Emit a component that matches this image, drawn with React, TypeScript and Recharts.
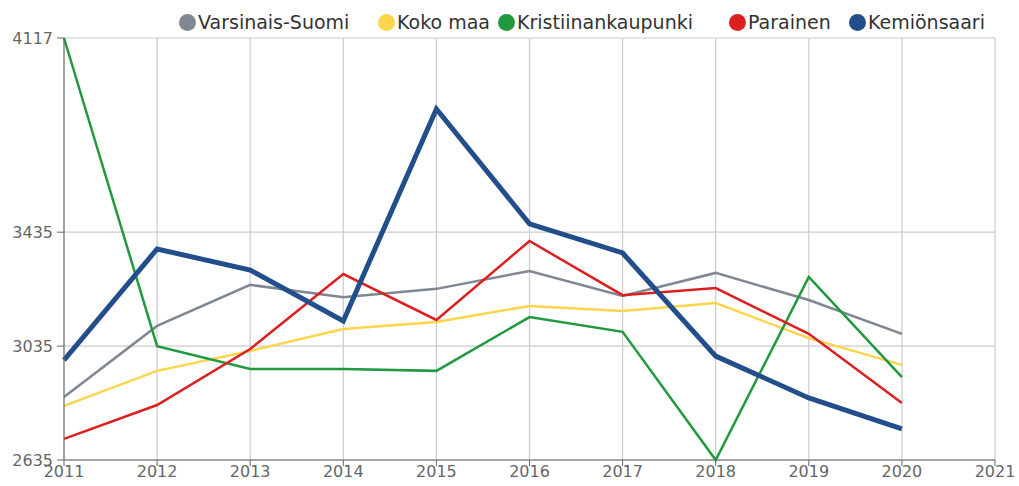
import React from 'react';
import { LineChart, Line, XAxis, YAxis, CartesianGrid } from 'recharts';

const years = [2011, 2012, 2013, 2014, 2015, 2016, 2017, 2018, 2019, 2020];
const varsinaisSuomi = [2856, 3106, 3250, 3207, 3236, 3299, 3211, 3292, 3197, 3078];
const kokoMaa = [2825, 2948, 3018, 3095, 3120, 3176, 3158, 3186, 3063, 2969];
const kristiinankaupunki = [4117, 3035, 2955, 2955, 2948, 3137, 3085, 2635, 3278, 2926];
const parainen = [2709, 2828, 3025, 3288, 3127, 3404, 3214, 3239, 3078, 2835];
const kemionsaari = [2986, 3376, 3302, 3123, 3868, 3464, 3362, 3000, 2853, 2744];

const xTicks = [2011, 2012, 2013, 2014, 2015, 2016, 2017, 2018, 2019, 2020, 2021];
const yTicks = [2635, 3035, 3435, 4117];

const series = [
  { key: 'vs', name: 'Varsinais-Suomi', color: '#7f8793', width: 2.5, values: varsinaisSuomi },
  { key: 'km', name: 'Koko maa', color: '#fcd54c', width: 2.5, values: kokoMaa },
  { key: 'kk', name: 'Kristiinankaupunki', color: '#22993f', width: 2.5, values: kristiinankaupunki },
  { key: 'pa', name: 'Parainen', color: '#dc2020', width: 2.5, values: parainen },
  { key: 'ke', name: 'Kemiönsaari', color: '#224f8b', width: 5, values: kemionsaari },
];

// legend item left edges (circle) in px
const legendLeft = [179, 378, 498, 729, 849];

const data = years.map((year, i) => {
  const row: Record<string, number> = { year };
  series.forEach((s) => (row[s.key] = s.values[i]));
  return row;
});

const tickStyle = { fontFamily: '"DejaVu Sans", sans-serif', fontSize: 16, fill: '#666' };

export default function App() {
  return (
    <div style={{ position: 'absolute', left: 0, top: 0, width: 1019, height: 486, background: '#fff' }}>
      <div style={{ position: 'absolute', top: 0, left: 0, width: 1019, height: 44 }}>
        {series.map((s, i) => (
          <div
            key={s.key}
            style={{
              position: 'absolute',
              left: legendLeft[i],
              top: 11,
              display: 'flex',
              alignItems: 'center',
              fontFamily: '"DejaVu Sans", sans-serif',
              fontSize: 19,
              lineHeight: '23px',
              color: '#333',
              whiteSpace: 'nowrap',
            }}
          >
            <span style={{ width: 17, height: 17, borderRadius: 9, background: s.color, display: 'inline-block', marginRight: 2 }} />
            {s.name}
          </div>
        ))}
      </div>
      <LineChart width={1019} height={486} data={data} margin={{ top: 38, right: 24, bottom: 0, left: 0 }}>
        <CartesianGrid stroke="#cccccc" strokeWidth={1.2} />
        <XAxis
          dataKey="year"
          type="number"
          domain={[2011, 2021]}
          ticks={xTicks}
          interval={0}
          height={26}
          tick={tickStyle}
          tickSize={6}
          tickMargin={0}
          stroke="#666"
          allowDecimals={false}
        />
        <YAxis
          type="number"
          domain={[2635, 4117]}
          ticks={yTicks}
          interval={0}
          width={64}
          tick={tickStyle}
          tickSize={7}
          tickMargin={4}
          stroke="#666"
        />
        {series.map((s) => (
          <Line
            key={s.key}
            dataKey={s.key}
            name={s.name}
            stroke={s.color}
            strokeWidth={s.width}
            dot={false}
            activeDot={false}
            type="linear"
            isAnimationActive={false}
          />
        ))}
      </LineChart>
    </div>
  );
}
